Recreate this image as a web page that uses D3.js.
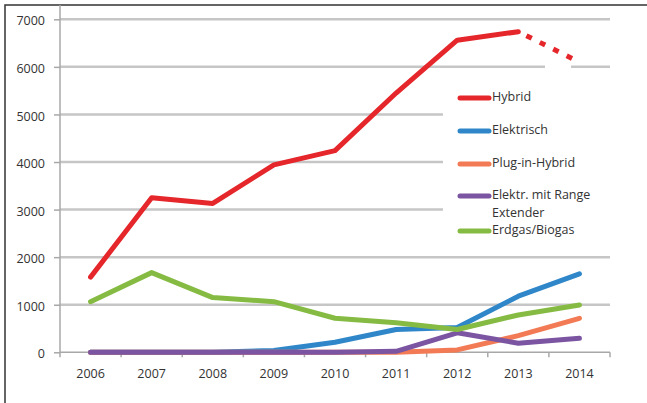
<!DOCTYPE html>
<html>
<head>
<meta charset="utf-8">
<script src="https://cdn.jsdelivr.net/npm/d3@7/dist/d3.min.js"></script>
<style>
  body { margin: 0; background: #fff; }
  svg text { font-family: "Open Sans", sans-serif; fill: #333; }
</style>
</head>
<body>
<div id="chart"></div>
<script>
// Categories and series
const years = ['2006', '2007', '2008', '2009', '2010', '2011', '2012', '2013', '2014'];
const hybrid = [1580, 3250, 3130, 3940, 4240, 5450, 6560, 6740, 6100];
const elektrisch = [0, 0, 0, 40, 210, 480, 520, 1180, 1650];
const pluginHybrid = [0, 0, 0, 0, 0, 0, 50, 350, 715];
const rangeExtender = [0, 0, 0, 0, 0, 20, 410, 190, 295];
const erdgas = [1065, 1675, 1150, 1065, 715, 620, 480, 785, 995];
const yTicks = [0, 1000, 2000, 3000, 4000, 5000, 6000, 7000];

const series = [
    { name: 'Hybrid', values: hybrid, color: '#e5262a', dashedLast: true },
    { name: 'Elektrisch', values: elektrisch, color: '#2f87c9' },
    { name: 'Plug-in-Hybrid', values: pluginHybrid, color: '#f27b55' },
    { name: 'Elektr. mit Range\nExtender', values: rangeExtender, color: '#7c55a2' },
    { name: 'Erdgas/Biogas', values: erdgas, color: '#86bb43' }
];

const width = 647, height = 403;
const svg = d3.select('#chart').append('svg')
    .attr('width', width)
    .attr('height', height);

const x = d3.scaleBand().domain(years).range([60, 610]).paddingInner(0).paddingOuter(0);
const y = d3.scaleLinear().domain([0, 7000]).range([352.3, 19.3]);
const cx = d => x(d) + x.bandwidth() / 2;

// Frame (top and left only)
svg.append('path')
    .attr('d', `M5,${height} V5 H${width}`)
    .attr('fill', 'none')
    .attr('stroke', '#333')
    .attr('stroke-width', 1.5);

// Gridlines
svg.append('g')
    .selectAll('line')
    .data(yTicks.filter(t => t > 0))
    .join('line')
    .attr('x1', 60).attr('x2', 610)
    .attr('y1', d => y(d)).attr('y2', d => y(d))
    .attr('stroke', '#c6c6c6')
    .attr('stroke-width', 2.5);

// Legend sits over part of the plot, hiding the middle gridlines
svg.append('rect')
    .attr('x', 443).attr('y', 76)
    .attr('width', 170).attr('height', 170)
    .attr('fill', '#fff');
// small notch in the 6000 line under the dashed segment
svg.append('path')
    .attr('d', `M545,${y(6000) - 2} L571,${y(6000) - 2} L571,${y(6000) + 2} L562,${y(6000) + 2} L558,${y(6000) + 6} L552,${y(6000) + 2} L545,${y(6000) + 2} Z`)
    .attr('fill', '#fff');

// Y axis
const yAxis = svg.append('g').attr('transform', 'translate(60,0)')
    .call(d3.axisLeft(y).tickValues(yTicks).tickSize(6).tickPadding(9).tickFormat(d3.format('d')));
yAxis.select('.domain').attr('d', `M0,5 V${y(0)}`);
yAxis.selectAll('path, line').attr('stroke', '#a8a8a8').attr('stroke-width', 1.5);
yAxis.selectAll('text').attr('font-size', 12.5).attr('dy', '0.45em')
    .style('font-family', '"Open Sans", sans-serif').attr('fill', '#333');

// X axis with ticks between categories
const xAxis = svg.append('g');
xAxis.append('line')
    .attr('x1', 60).attr('x2', 610)
    .attr('y1', y(0)).attr('y2', y(0))
    .attr('stroke', '#a8a8a8').attr('stroke-width', 1.5);
xAxis.selectAll('line.tick')
    .data(years.concat(['end']))
    .join('line')
    .attr('class', 'tick')
    .attr('x1', (d, i) => 60 + i * x.bandwidth())
    .attr('x2', (d, i) => 60 + i * x.bandwidth())
    .attr('y1', y(0)).attr('y2', y(0) + 5)
    .attr('stroke', '#a8a8a8').attr('stroke-width', 1.5);
xAxis.selectAll('text')
    .data(years)
    .join('text')
    .attr('x', d => cx(d))
    .attr('y', 378)
    .attr('text-anchor', 'middle')
    .attr('font-size', 12.5)
    .text(d => d);

// Lines
const line = d3.line()
    .x(d => cx(d.year))
    .y(d => y(d.value));

series.forEach(s => {
    const pts = years.map((yr, i) => ({ year: yr, value: s.values[i] }));
    const solid = s.dashedLast ? pts.slice(0, -1) : pts;
    svg.append('path')
        .datum(solid)
        .attr('d', line)
        .attr('fill', 'none')
        .attr('stroke', s.color)
        .attr('stroke-width', 5)
        .attr('stroke-linejoin', 'round')
        .attr('stroke-linecap', 'round');
    if (s.dashedLast) {
        svg.append('path')
            .datum(pts.slice(-2))
            .attr('d', line)
            .attr('fill', 'none')
            .attr('stroke', s.color)
            .attr('stroke-width', 5)
            .attr('stroke-dasharray', '0,9,6,9,6,9,6,9,6,9,6');
    }
});

// Legend
const legendY = [97, 130, 163, 195, 230];
const legend = svg.append('g');
series.forEach((s, i) => {
    const ly = legendY[i];
    legend.append('line')
        .attr('x1', 460).attr('x2', 489)
        .attr('y1', ly + 1).attr('y2', ly + 1)
        .attr('stroke', s.color)
        .attr('stroke-width', 5)
        .attr('stroke-linecap', 'round');
    s.name.split('\n').forEach((t, j) => {
        legend.append('text')
            .attr('x', 492)
            .attr('y', ly + j * 17.5)
            .attr('dy', '0.35em')
            .attr('font-size', 12.5)
            .text(t);
    });
});
</script>
</body>
</html>
